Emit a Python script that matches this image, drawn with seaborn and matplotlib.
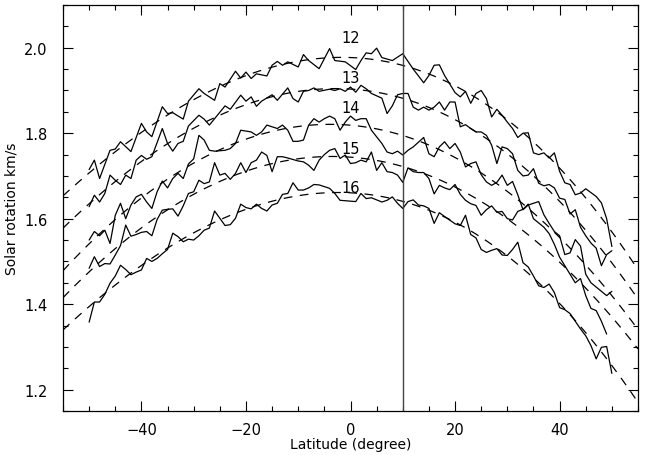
import numpy as np
import matplotlib
matplotlib.use("Agg")
import matplotlib.pyplot as plt
import seaborn as sns
from matplotlib.ticker import MultipleLocator, FormatStrFormatter

sns.set_style("ticks")
plt.rcParams["font.family"] = ["DejaVu Sans"]
plt.rcParams["text.color"] = "black"
plt.rcParams["axes.labelcolor"] = "black"

# latitude (degree) / rotation (km/s), one series per cycle
x12 = [-50, -49, -48, -46, -45, -44, -42, -40, -39, -38, -36, -35, -34, -32, -31, -29, -28, -26, -25, -24,
       -22, -21, -20, -19, -18, -16, -15, -14, -13, -12, -10, -9, -8, -6, -4, -3, -1, 1, 2, 3,
       4, 5, 6, 8, 10, 12, 14, 15, 16, 17, 18, 20, 21, 22, 23, 24, 25, 26, 27, 28,
       29, 30, 31, 32, 33, 34, 35, 36, 37, 38, 39, 40, 41, 42, 43, 44, 45, 47, 48, 49, 50]
y12 = [1.715, 1.737, 1.694, 1.760, 1.763, 1.780, 1.757, 1.823, 1.803, 1.792, 1.862, 1.846, 1.848, 1.833, 1.875, 1.904, 1.893, 1.877, 1.916, 1.908,
       1.945, 1.929, 1.943, 1.928, 1.939, 1.934, 1.959, 1.968, 1.959, 1.967, 1.955, 1.984, 1.970, 1.951, 1.998, 1.970, 1.967, 1.949, 1.970, 1.988,
       1.986, 1.999, 1.977, 1.970, 1.986, 1.950, 1.918, 1.935, 1.959, 1.960, 1.935, 1.895, 1.885, 1.898, 1.870, 1.893, 1.900, 1.881, 1.838, 1.856,
       1.842, 1.826, 1.811, 1.790, 1.800, 1.801, 1.754, 1.750, 1.754, 1.742, 1.754, 1.711, 1.684, 1.680, 1.656, 1.660, 1.670, 1.652, 1.637, 1.600, 1.535]

x13 = [-50, -49, -48, -47, -46, -45, -44, -43, -42, -41, -40, -39, -38, -36, -35, -34, -33, -32, -31, -29,
       -28, -27, -26, -24, -23, -21, -20, -19, -18, -17, -15, -14, -12, -11, -10, -9, -8, -7, -6, -4,
       -3, -2, -1, 0, 1, 2, 3, 4, 6, 7, 8, 9, 10, 11, 12, 13, 14, 15, 16, 17,
       18, 19, 20, 21, 22, 23, 24, 25, 26, 27, 28, 29, 30, 31, 32, 33, 34, 35, 36, 37,
       38, 39, 40, 41, 42, 43, 44, 45, 46, 47, 48, 49, 50]
y13 = [1.628, 1.655, 1.639, 1.659, 1.702, 1.690, 1.680, 1.702, 1.694, 1.737, 1.748, 1.739, 1.745, 1.811, 1.776, 1.758, 1.776, 1.781, 1.817, 1.842,
       1.833, 1.819, 1.834, 1.864, 1.856, 1.889, 1.875, 1.885, 1.863, 1.875, 1.890, 1.877, 1.906, 1.881, 1.873, 1.898, 1.900, 1.906, 1.898, 1.903,
       1.900, 1.904, 1.898, 1.908, 1.896, 1.912, 1.904, 1.893, 1.882, 1.846, 1.864, 1.890, 1.893, 1.893, 1.861, 1.854, 1.861, 1.854, 1.861, 1.873,
       1.854, 1.873, 1.873, 1.815, 1.820, 1.811, 1.803, 1.803, 1.795, 1.772, 1.729, 1.768, 1.764, 1.752, 1.713, 1.700, 1.702, 1.717, 1.683, 1.677,
       1.680, 1.672, 1.648, 1.645, 1.611, 1.621, 1.580, 1.560, 1.543, 1.531, 1.490, 1.516, 1.525]

x14 = [-50, -49, -48, -47, -46, -45, -44, -43, -42, -41, -40, -39, -38, -37, -36, -35, -34, -33, -32, -31,
       -30, -29, -28, -27, -26, -24, -23, -22, -21, -20, -19, -18, -17, -16, -15, -14, -13, -12, -11, -10,
       -9, -8, -7, -6, -5, -4, -3, -2, -1, 0, 1, 2, 3, 4, 6, 7, 8, 9, 10, 11,
       12, 14, 15, 16, 17, 18, 19, 20, 21, 22, 23, 24, 25, 26, 27, 28, 29, 30, 31, 32,
       33, 34, 36, 37, 38, 39, 40, 41, 42, 43, 44, 45, 46, 47, 48, 49, 50]
y14 = [1.550, 1.570, 1.560, 1.573, 1.542, 1.608, 1.636, 1.600, 1.632, 1.651, 1.657, 1.639, 1.624, 1.663, 1.688, 1.672, 1.694, 1.706, 1.694, 1.728,
       1.740, 1.795, 1.784, 1.760, 1.758, 1.760, 1.764, 1.776, 1.807, 1.805, 1.803, 1.795, 1.803, 1.819, 1.815, 1.811, 1.819, 1.807, 1.781, 1.781,
       1.784, 1.819, 1.834, 1.826, 1.834, 1.840, 1.834, 1.807, 1.826, 1.840, 1.830, 1.834, 1.834, 1.807, 1.776, 1.756, 1.752, 1.758, 1.749, 1.760,
       1.768, 1.790, 1.752, 1.745, 1.768, 1.780, 1.764, 1.776, 1.756, 1.721, 1.729, 1.733, 1.703, 1.686, 1.678, 1.685, 1.702, 1.678, 1.687, 1.656,
       1.621, 1.632, 1.640, 1.609, 1.589, 1.570, 1.560, 1.516, 1.520, 1.551, 1.536, 1.470, 1.450, 1.440, 1.430, 1.420, 1.430]

x15 = [-50, -49, -48, -47, -46, -45, -44, -43, -42, -41, -40, -39, -38, -37, -36, -35, -34, -33, -32, -31,
       -30, -29, -28, -27, -26, -25, -24, -23, -22, -21, -20, -19, -18, -17, -16, -15, -14, -13, -12,
       -10, -9, -8, -7, -6, -5, -4, -3, -2, -1, 0, 1, 2, 3, 4, 5, 6, 7, 8, 9,
       10, 11, 12, 13, 14, 15, 16, 17, 18, 19, 20, 21, 22, 23, 24, 25, 26, 27, 28, 29,
       30, 31, 32, 33, 34, 35, 36, 37, 38, 39, 40, 41, 42, 43, 44, 45, 46, 47, 48, 49]
y15 = [1.484, 1.511, 1.488, 1.495, 1.494, 1.515, 1.537, 1.585, 1.559, 1.563, 1.568, 1.570, 1.560, 1.598, 1.620, 1.622, 1.623, 1.606, 1.630, 1.659,
       1.663, 1.690, 1.682, 1.686, 1.731, 1.702, 1.706, 1.692, 1.706, 1.731, 1.708, 1.731, 1.737, 1.756, 1.748, 1.710, 1.745, 1.745, 1.742,
       1.735, 1.733, 1.725, 1.713, 1.737, 1.750, 1.760, 1.764, 1.741, 1.749, 1.729, 1.731, 1.737, 1.733, 1.756, 1.713, 1.731, 1.710, 1.708, 1.702,
       1.685, 1.719, 1.710, 1.708, 1.708, 1.694, 1.658, 1.678, 1.672, 1.668, 1.680, 1.657, 1.643, 1.635, 1.631, 1.608, 1.621, 1.630, 1.615, 1.617,
       1.600, 1.597, 1.617, 1.622, 1.634, 1.600, 1.590, 1.580, 1.565, 1.540, 1.510, 1.490, 1.470, 1.450, 1.460, 1.420, 1.390, 1.385, 1.360, 1.330]

x16 = [-50, -49, -48, -47, -46, -45, -44, -43, -42, -41, -40, -39, -38, -37, -36, -35, -34, -33, -32, -31,
       -30, -29, -28, -27, -26, -25, -24, -23, -22, -21, -20, -19, -18, -17, -16, -15, -14, -13, -12, -11,
       -10, -9, -8, -7, -6, -5, -4, -3, -2, 0, 1, 2, 3, 4, 6, 7, 8, 9, 10, 11,
       12, 13, 14, 15, 16, 17, 18, 20, 21, 22, 23, 24, 25, 26, 27, 28, 29, 30, 31, 32,
       33, 34, 35, 36, 37, 38, 39, 40, 41, 42, 43, 44, 45, 46, 47, 48, 49, 50]
y16 = [1.358, 1.405, 1.405, 1.423, 1.449, 1.466, 1.491, 1.481, 1.469, 1.475, 1.480, 1.507, 1.500, 1.507, 1.518, 1.528, 1.566, 1.558, 1.546, 1.552,
       1.550, 1.560, 1.573, 1.578, 1.618, 1.601, 1.584, 1.586, 1.601, 1.634, 1.626, 1.623, 1.634, 1.624, 1.618, 1.632, 1.636, 1.657, 1.659, 1.684,
       1.667, 1.667, 1.672, 1.680, 1.679, 1.675, 1.671, 1.659, 1.643, 1.641, 1.640, 1.659, 1.647, 1.649, 1.639, 1.643, 1.651, 1.636, 1.624, 1.640,
       1.644, 1.632, 1.630, 1.624, 1.589, 1.614, 1.605, 1.588, 1.584, 1.608, 1.563, 1.555, 1.528, 1.521, 1.526, 1.530, 1.515, 1.514, 1.528, 1.545,
       1.497, 1.487, 1.466, 1.443, 1.439, 1.447, 1.427, 1.392, 1.387, 1.378, 1.360, 1.342, 1.326, 1.303, 1.272, 1.299, 1.301, 1.238]

cycles = ["12", "13", "14", "15", "16"]
label_x = [0, 0, 0, 0, 0]
label_y = [2.025, 1.931, 1.861, 1.764, 1.674]

series = [(x12, y12), (x13, y13), (x14, y14), (x15, y15), (x16, y16)]

fig = plt.figure(figsize=(6.48, 4.56), dpi=100)
ax = fig.add_axes([63 / 648, 1 - 412 / 456, 575 / 648, 406 / 456])
ax.set_xlim(-55, 55)
ax.set_ylim(1.15, 2.1)

for (xs, ys) in series:
    sns.lineplot(x=xs, y=ys, ax=ax, color="black", lw=0.9, estimator=None)
    # dashed fit curve over the whole axis range
    sns.regplot(x=np.array(xs), y=np.array(ys), ax=ax, order=3, ci=None,
                scatter=False, truncate=False,
                line_kws=dict(color="black", lw=0.9, ls=(0, (7, 6))))

for lx, ly, lab in zip(label_x, label_y, cycles):
    ax.text(lx, ly, lab, ha="center", va="center", fontsize=10.5, color="black")

ax.axvline(10, color="#444444", lw=1.0)

ax.set_xlim(-55, 55)
ax.set_ylim(1.15, 2.1)
ax.xaxis.set_major_locator(MultipleLocator(20))
ax.xaxis.set_minor_locator(MultipleLocator(5))
ax.yaxis.set_major_locator(MultipleLocator(0.2))
ax.yaxis.set_minor_locator(MultipleLocator(0.05))
ax.yaxis.set_major_formatter(FormatStrFormatter("%.1f"))
ax.tick_params(which="both", direction="in", top=True, right=True, width=0.8, colors="black")
ax.tick_params(which="major", length=7, labelsize=10.5)
ax.tick_params(which="minor", length=3.5)
ax.tick_params(axis="x", which="major", pad=8)
ax.tick_params(axis="y", which="major", pad=11)
for sp in ax.spines.values():
    sp.set_linewidth(0.9)
    sp.set_color("black")

ax.set_xlabel("Latitude (degree)", fontsize=10, labelpad=0)
ax.set_ylabel("Solar rotation km/s", fontsize=10, labelpad=4)

fig.savefig("out.png", dpi=100)
